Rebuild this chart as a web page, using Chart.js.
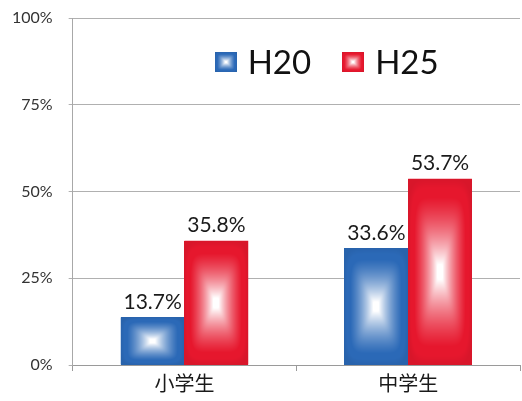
<!DOCTYPE html>
<html>
<head>
<meta charset="utf-8">
<script src="https://cdn.jsdelivr.net/npm/chart.js@4"></script>
<style>
  html, body { margin: 0; padding: 0; background: #fff; }
  #wrap { width: 522px; height: 401px; }
</style>
</head>
<body>
<div id="wrap"><canvas id="bar"></canvas></div>
<script>
// data
const categories = ['小学生', '中学生'];
const seriesNames = ['H20', 'H25'];
const h20 = [13.7, 33.6];
const h25 = [35.8, 53.7];
const tickValues = [0, 25, 50, 75, 100];

const edgeColors = ['#2b69b7', '#e6172d'];
const edgeRGB = [[43, 105, 183], [230, 23, 45]];
const FONT = "Lato, 'Noto Sans CJK JP', sans-serif";

// rectangle filled "from centre": white core, colour towards the edges
function pillow(ctx, left, top, right, bottom, rgb) {
  const x0 = Math.round(left), y0 = Math.round(top);
  const w = Math.round(right) - x0, h = Math.round(bottom) - y0;
  if (w <= 0 || h <= 0) return;
  const img = ctx.createImageData(w, h);
  const hw = w / 2, hh = h / 2;
  for (let j = 0; j < h; j++) {
    for (let i = 0; i < w; i++) {
      const dx = Math.abs(i + 0.5 - hw) / hw, dy = Math.abs(j + 0.5 - hh) / hh;
      const t = Math.min(1, Math.pow(Math.pow(dx, 6) + Math.pow(dy, 6), 1 / 6));
      const u = Math.min(1, Math.max(0, (t - 0.08) / 0.72));
      const f = u * (1.4 - 0.4 * u);
      const dark = t > 0.9 ? 1 - (t - 0.9) * 0.6 : 1;
      const k = (j * w + i) * 4;
      for (let c = 0; c < 3; c++) {
        img.data[k + c] = Math.round((255 + (rgb[c] - 255) * f) * dark);
      }
      img.data[k + 3] = 255;
    }
  }
  ctx.putImageData(img, x0, y0);
}

const barLook = {
  id: 'barLook',
  afterDatasetsDraw(chart) {
    const ctx = chart.ctx;
    ctx.save();
    chart.data.datasets.forEach((ds, i) => {
      chart.getDatasetMeta(i).data.forEach((bar, j) => {
        const l = bar.x - bar.width / 2, r = bar.x + bar.width / 2;
        pillow(ctx, l, bar.y, r, bar.base, edgeRGB[i]);
        // value label
        ctx.fillStyle = '#1a1a1a';
        ctx.font = '21px ' + FONT;
        ctx.textAlign = 'center';
        ctx.textBaseline = 'bottom';
        ctx.fillText(ds.data[j].toFixed(1) + '%', bar.x, bar.y - 5);
      });
    });
    // legend inside plot area
    const a = chart.chartArea;
    let x = a.left + 142;
    const y = a.top + 34;
    ctx.font = '33px ' + FONT;
    ctx.textAlign = 'left';
    ctx.textBaseline = 'middle';
    chart.data.datasets.forEach((ds, i) => {
      pillow(ctx, x, y, x + 22, y + 20, edgeRGB[i]);
      ctx.fillStyle = '#111';
      ctx.fillText(ds.label, x + 33, y + 11);
      x += 33 + ctx.measureText(ds.label).width + 31;
    });
    ctx.restore();
  }
};

new Chart(document.getElementById('bar'), {
  type: 'bar',
  data: {
    labels: categories,
    datasets: [
      { label: seriesNames[0], data: h20, backgroundColor: edgeColors[0] },
      { label: seriesNames[1], data: h25, backgroundColor: edgeColors[1] },
    ],
  },
  options: {
    responsive: true,
    maintainAspectRatio: false,
    animation: false,
    layout: { padding: { top: 18, right: 2, left: -4, bottom: 2 } },
    datasets: { bar: { categoryPercentage: 0.57, barPercentage: 1.0 } },
    plugins: {
      legend: { display: false },
      tooltip: { enabled: false },
    },
    scales: {
      x: {
        grid: { display: true, offset: true, drawOnChartArea: false, color: '#9a9a9a', tickLength: 6 },
        border: { color: '#9a9a9a' },
        ticks: { color: '#1a1a1a', font: { family: FONT, size: 20 }, padding: 2 },
      },
      y: {
        min: 0,
        max: 100,
        afterBuildTicks: axis => { axis.ticks = tickValues.map(v => ({ value: v })); },
        // tick padding would otherwise push the plot top down
        afterFit: axis => { axis.paddingTop = 0; },
        grid: { color: '#b0b0b0', tickLength: 4 },
        border: { color: '#a8a8a8' },
        ticks: {
          color: '#333',
          font: { family: FONT, size: 16 },
          padding: 16,
          callback: v => v + '%',
        },
      },
    },
  },
  plugins: [barLook],
});
</script>
</body>
</html>
